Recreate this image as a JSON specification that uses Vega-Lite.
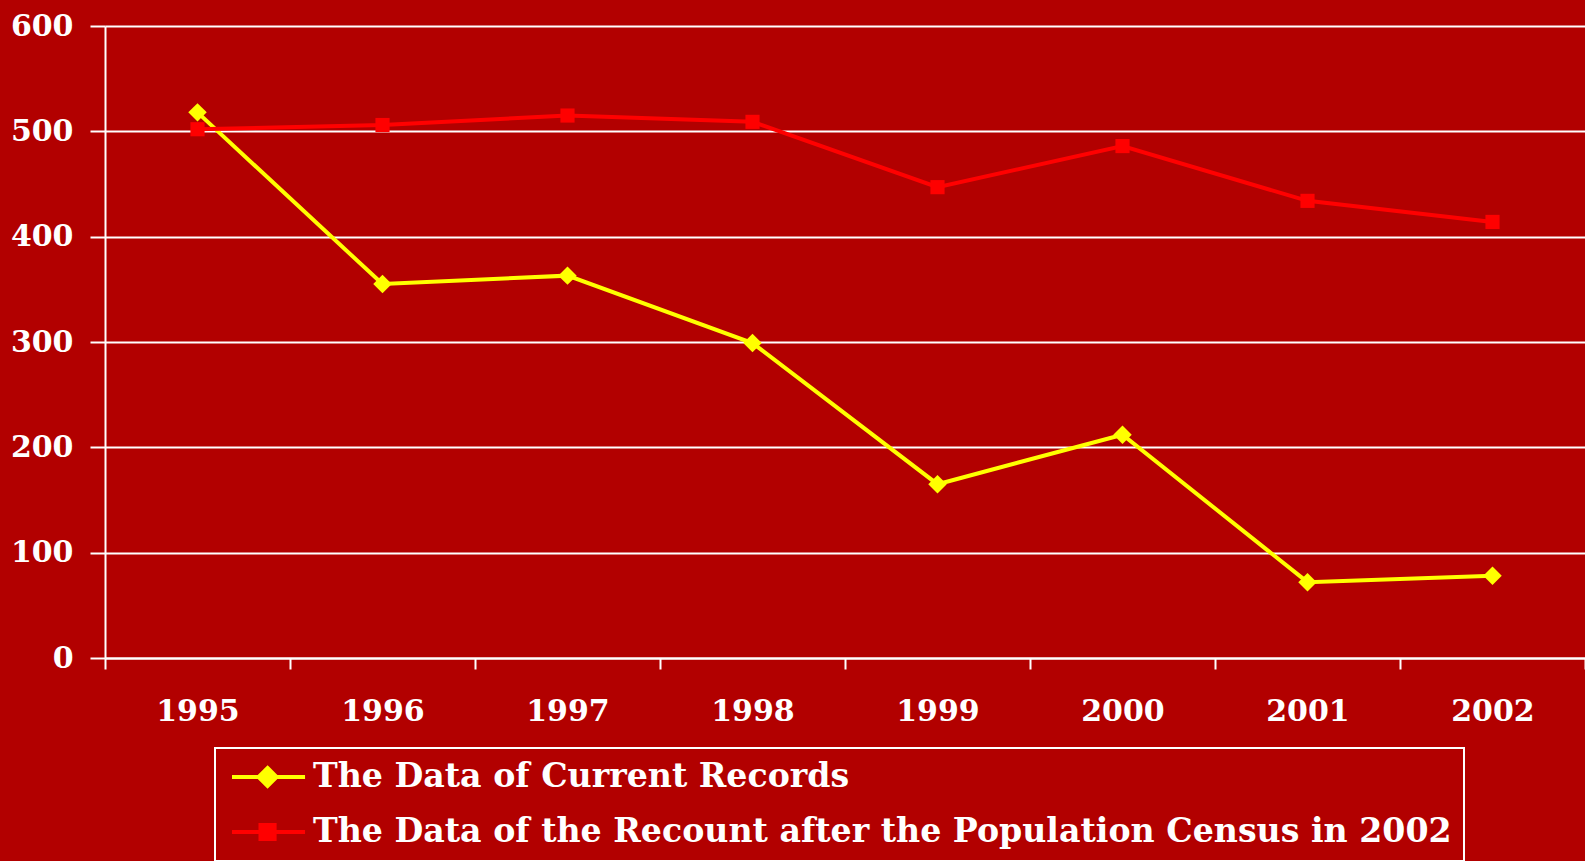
{
  "$schema": "https://vega.github.io/schema/vega-lite/v6.json",
  "width": 1480,
  "height": 632,
  "autosize": {"type": "none"},
  "padding": {"left": 105, "top": 26, "right": 0, "bottom": 203},
  "background": "#b20000",
  "config": {
    "view": {"stroke": null},
    "font": "DejaVu Serif",
    "axis": {
      "labelFont": "DejaVu Serif",
      "labelFontWeight": "bold",
      "labelFontSize": 30,
      "labelColor": "white",
      "domainColor": "white",
      "domainWidth": 2,
      "tickColor": "white",
      "tickWidth": 2,
      "gridColor": "white",
      "gridWidth": 2,
      "gridOpacity": 1,
      "domainOpacity": 1,
      "tickOpacity": 1,
      "title": null
    }
  },
  "data": {
    "values": [
      {"year": "1995", "series": "The Data of Current Records", "value": 518},
      {"year": "1996", "series": "The Data of Current Records", "value": 355},
      {"year": "1997", "series": "The Data of Current Records", "value": 363},
      {"year": "1998", "series": "The Data of Current Records", "value": 299},
      {"year": "1999", "series": "The Data of Current Records", "value": 165},
      {"year": "2000", "series": "The Data of Current Records", "value": 212},
      {"year": "2001", "series": "The Data of Current Records", "value": 72},
      {"year": "2002", "series": "The Data of Current Records", "value": 78},
      {"year": "1995", "series": "The Data of the Recount after the Population Census in 2002", "value": 502},
      {"year": "1996", "series": "The Data of the Recount after the Population Census in 2002", "value": 506},
      {"year": "1997", "series": "The Data of the Recount after the Population Census in 2002", "value": 515},
      {"year": "1998", "series": "The Data of the Recount after the Population Census in 2002", "value": 509},
      {"year": "1999", "series": "The Data of the Recount after the Population Census in 2002", "value": 447},
      {"year": "2000", "series": "The Data of the Recount after the Population Census in 2002", "value": 486},
      {"year": "2001", "series": "The Data of the Recount after the Population Census in 2002", "value": 434},
      {"year": "2002", "series": "The Data of the Recount after the Population Census in 2002", "value": 414}
    ]
  },
  "encoding": {
    "x": {
      "field": "year",
      "type": "ordinal",
      "scale": {"type": "band", "paddingInner": 0, "paddingOuter": 0},
      "axis": {
        "labelAngle": 0,
        "tickBand": "extent",
        "tickSize": 11,
        "labelPadding": 27,
        "grid": false,
        "domain": true
      }
    },
    "y": {
      "field": "value",
      "type": "quantitative",
      "scale": {"domain": [0, 600], "nice": false},
      "axis": {
        "values": [0, 100, 200, 300, 400, 500, 600],
        "tickSize": 15,
        "labelPadding": 17,
        "grid": true
      }
    },
    "color": {
      "field": "series",
      "type": "nominal",
      "scale": {
        "domain": ["The Data of Current Records", "The Data of the Recount after the Population Census in 2002"],
        "range": ["#ffff00", "#ff0000"]
      },
      "legend": {
        "orient": "none",
        "legendX": 110,
        "legendY": 722,
        "direction": "vertical",
        "title": null,
        "strokeColor": "white",
        "padding": 12,
        "labelFont": "DejaVu Serif",
        "labelFontWeight": "bold",
        "labelFontSize": 33.2,
        "labelColor": "white",
        "labelLimit": 0,
        "labelOffset": 52,
        "rowPadding": 21,
        "symbolSize": 900,
        "symbolStrokeWidth": 4,
        "encode": {
          "legend": {"update": {"strokeWidth": {"value": 2}}},
          "symbols": {
            "update": {
              "shape": {"signal": "datum.value === 'The Data of Current Records' ? 'M-0.8,0H4.07M1.57,-0.6L2.17,0L1.57,0.6L0.97,0Z' : 'M-0.8,0H4.07M1.1,-0.47H2.04V0.47H1.1Z'"},
              "fill": {"signal": "datum.value === 'The Data of Current Records' ? '#ffff00' : '#ff0000'"},
              "stroke": {"signal": "datum.value === 'The Data of Current Records' ? '#ffff00' : '#ff0000'"},
              "strokeWidth": {"value": 4},
              "opacity": {"value": 1},
              "fillOpacity": {"value": 1}
            }
          }
        }
      }
    }
  },
  "layer": [
    {"mark": {"type": "line", "strokeWidth": 4}},
    {
      "transform": [{"filter": "datum.series === 'The Data of Current Records'"}],
      "mark": {"type": "point", "filled": true, "opacity": 1, "shape": "diamond", "size": 340}
    },
    {
      "transform": [{"filter": "datum.series !== 'The Data of Current Records'"}],
      "mark": {"type": "point", "filled": true, "opacity": 1, "shape": "square", "size": 200}
    }
  ]
}
